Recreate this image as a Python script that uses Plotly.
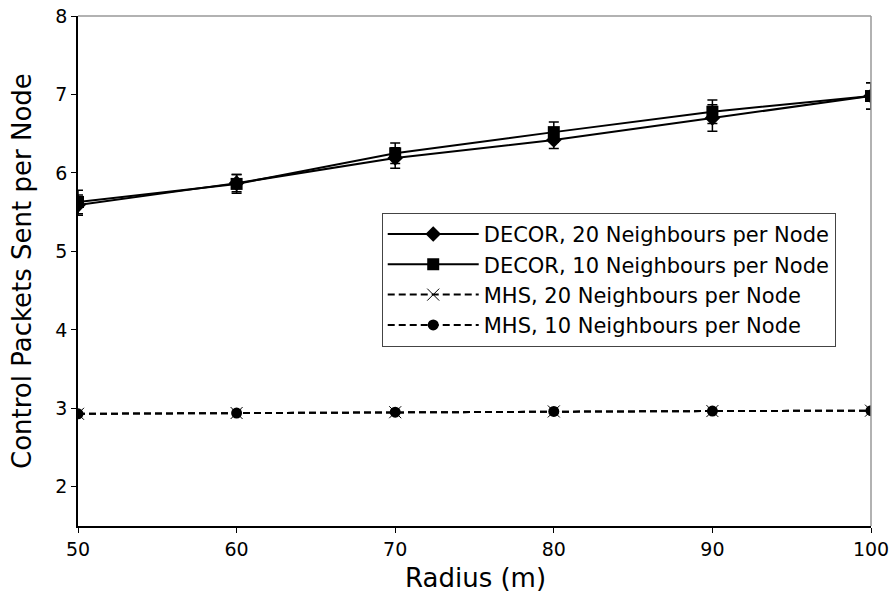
import plotly.graph_objects as go

radius = [50, 60, 70, 80, 90, 100]
decor20 = [5.59, 5.87, 6.19, 6.42, 6.70, 6.98]
decor10 = [5.63, 5.86, 6.25, 6.52, 6.78, 6.98]
decor20_err = [0.13, 0.11, 0.13, 0.11, 0.17, 0.17]
decor10_err = [0.15, 0.12, 0.13, 0.13, 0.15, 0.17]
mhs20 = [2.93, 2.94, 2.95, 2.96, 2.965, 2.97]
mhs10 = [2.93, 2.94, 2.95, 2.96, 2.965, 2.97]
names = ["DECOR, 20 Neighbours per Node", "DECOR, 10 Neighbours per Node",
         "MHS, 20 Neighbours per Node", "MHS, 10 Neighbours per Node"]
x_ticks = [50, 60, 70, 80, 90, 100]
y_ticks = [2, 3, 4, 5, 6, 7, 8]

FONT = "DejaVu Sans"
fig = go.Figure()
fig.add_trace(go.Scatter(
    x=radius, y=decor20, name=names[0], mode="lines+markers",
    line=dict(color="black", width=2),
    marker=dict(symbol="diamond", size=12, color="black"),
    error_y=dict(type="data", array=decor20_err, color="black", thickness=1.5, width=5)))
fig.add_trace(go.Scatter(
    x=radius, y=decor10, name=names[1], mode="lines+markers",
    line=dict(color="black", width=2),
    marker=dict(symbol="square", size=12, color="black"),
    error_y=dict(type="data", array=decor10_err, color="black", thickness=1.5, width=5)))
fig.add_trace(go.Scatter(
    x=radius, y=mhs20, name=names[2], mode="lines+markers",
    line=dict(color="black", width=2, dash="7px,4px"),
    marker=dict(symbol="x-thin", size=12, color="black", line=dict(color="black", width=1))))
fig.add_trace(go.Scatter(
    x=radius, y=mhs10, name=names[3], mode="lines+markers",
    line=dict(color="black", width=2, dash="7px,4px"),
    marker=dict(symbol="circle", size=11, color="black")))

fig.update_layout(
    width=893, height=598,
    margin=dict(l=78, r=22, t=16, b=72),
    paper_bgcolor="white", plot_bgcolor="white",
    font=dict(family=FONT, color="black", size=19),
    showlegend=True,
    legend=dict(x=0.383, y=0.614, xanchor="left", yanchor="top",
                bordercolor="#444", borderwidth=1, bgcolor="white",
                font=dict(family=FONT, size=21), tracegroupgap=0,
                itemwidth=91),
    xaxis=dict(range=[50, 100], tickvals=x_ticks, showgrid=False, zeroline=False,
               showline=True, linecolor="black", linewidth=1.5, automargin=False,
               ticks="outside", ticklen=5, tickcolor="black", ticklabeloverflow="allow",
               tickfont=dict(size=19, family=FONT)),
    yaxis=dict(range=[1.5, 8], tickvals=y_ticks, showgrid=False, zeroline=False,
               showline=True, linecolor="black", linewidth=1.5, automargin=False,
               ticks="outside", ticklen=5, tickcolor="black", ticklabeloverflow="allow",
               tickfont=dict(size=19, family=FONT)),
)
fig.add_annotation(text="Control Packets Sent per Node", xref="paper", yref="paper",
                   x=(22 - 78) / 793, y=0.5, xanchor="center", yanchor="middle",
                   textangle=-90, showarrow=False, font=dict(size=26, family=FONT))
fig.add_annotation(text="Radius (m)", xref="paper", yref="paper",
                   x=(475 - 78) / 793, y=(526 - 578) / 510, xanchor="center", yanchor="middle",
                   showarrow=False, font=dict(size=26, family=FONT))
fig.add_shape(type="line", xref="paper", yref="paper", x0=0, x1=1, y0=1, y1=1,
              line=dict(color="#999", width=1.5))
fig.add_shape(type="line", xref="paper", yref="paper", x0=1, x1=1, y0=0, y1=1,
              line=dict(color="#999", width=1.5))
fig.write_html("out.html", config={"displayModeBar": False},
               post_script="document.body.style.margin='0';document.body.style.overflow='hidden';")
